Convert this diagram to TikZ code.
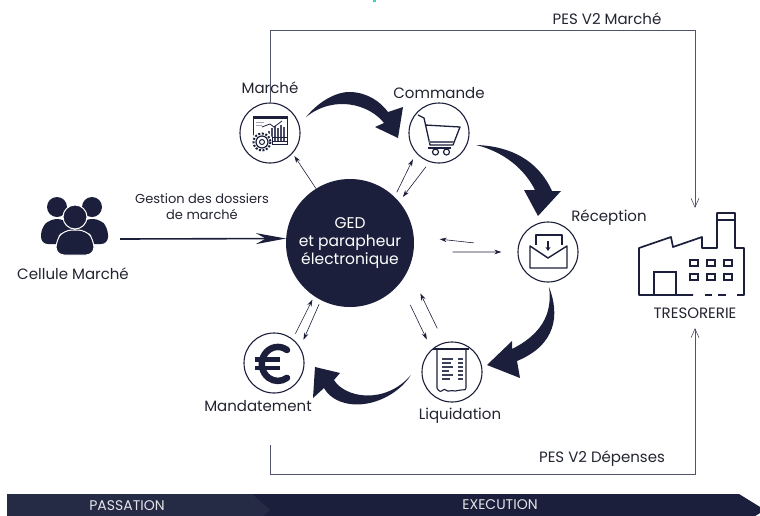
\documentclass[tikz,border=0pt]{standalone}
\usepackage{fontspec}
\setmainfont{Poppins}
\usetikzlibrary{arrows.meta}
\definecolor{navy}{HTML}{1B1F3B}
\definecolor{navyb}{HTML}{252B45}
\definecolor{inkc}{HTML}{222430}
\definecolor{linec}{HTML}{50546A}
\definecolor{tealmark}{HTML}{40D0C0}
\tikzset{
  lab/.style={font=\fontsize{15}{17}\selectfont,text=inkc,inner sep=0pt},
  smalllab/.style={font=\fontsize{13}{16}\selectfont,text=inkc,inner sep=0pt,align=center},
  peslab/.style={font=\fontsize{15}{17}\selectfont,text=inkc,inner sep=0pt},
  barlab/.style={font=\fontsize{14}{15}\selectfont,text=white!88!navy,inner sep=0pt},
  stage/.style={circle,draw=navy,line width=1.1pt,minimum size=60pt,inner sep=0pt},
  hub/.style={circle,fill=navy,minimum size=128pt,inner sep=0pt,text=white,align=center,font=\fontsize{15.5}{18}\selectfont},
  thinarrow/.style={draw=navy,line width=.6pt,-{Stealth[length=7pt,width=4.5pt]}},
  pesline/.style={draw=linec,line width=.8pt,-{Straight Barb[length=9pt,width=8pt,line width=.6pt]}},
  bigarrow/.style={fill=navy,draw=none},
  icon/.style={draw=navy,line width=1pt,fill=none,line join=round},
}
\begin{document}
\begin{tikzpicture}[x=1pt,y=-1pt]
\useasboundingbox (0,0) rectangle (760,515);
\fill[tealmark] (373,0) rectangle (376,2);
% process bar
\begin{scope}
\clip (0,0) rectangle (760,515);
\fill[navy] (7,494) -- (739,494) -- (765,510) -- (739,526) -- (7,526) -- cycle;
\fill[navyb] (7,494) -- (252,494) -- (270,510) -- (252,526) -- (7,526) -- cycle;
\end{scope}
\node[barlab] (passlab) at (127,505.5) {PASSATION};
\node[barlab] (execlab) at (500,504.5) {EXECUTION};
% nodes
\node[hub] (ged) at (350,243) {GED\\et parapheur\\électronique};
\node[stage] (marche) at (270,133) {};
\node[stage] (commande) at (439,133) {};
\node[stage] (reception) at (548,252) {};
\node[stage] (liquidation) at (452,372) {};
\node[stage] (mandat) at (274,363) {};
\node[lab] (lmarche) at (270,88) {Marché};
\node[lab] (lcommande) at (439,93) {Commande};
\node[lab] (lreception) at (609,218) {Réception};
\node[lab] (lliquidation) at (460,416) {Liquidation};
\node[lab] (lmandat) at (258,406) {Mandatement};
\node[lab] (lcellule) at (73,274) {Cellule Marché};
\node[smalllab] (lgestion) at (202,207) {Gestion des dossiers\\de marché};
\node[peslab] (ltres) at (695,313) {TRESORERIE};
\node[peslab] (lpes1) at (607,19) {PES V2 Marché};
\node[peslab] (lpes2) at (602,459) {PES V2 Dépenses};
% PES lines
\coordinate (pes1end) at (695,208);
\coordinate (pes2end) at (695,328);
\coordinate (pesstart) at (270,445);
\draw[pesline] (marche.north) -- (270,30) -- (695,30) -- (pes1end);
\draw[pesline] (pesstart) -- (270,474) -- (695,474) -- (pes2end);
% main arrow
\coordinate (cell) at (120,239);
\draw[draw=navy,line width=1.6pt,-{Stealth[length=30pt,width=11pt]}] (cell) -- (ged.176);
% thin arrows
\draw[thinarrow,shorten >=3pt] (ged.122.5) -- (marche.-42.6);
\draw[thinarrow,shorten <=5pt,shorten >=7pt] (ged.46.7) -- (commande.221.8);
\draw[thinarrow,shorten <=6pt,shorten >=6pt] (commande.252) -- (ged.40.4);
\draw[thinarrow,shorten <=44pt,shorten >=26pt] (reception.172) -- (ged.6);
\draw[thinarrow,shorten <=39pt,shorten >=16pt] (ged.-8.7) -- (reception.west);
\draw[thinarrow,shorten <=23.9pt,shorten >=10.9pt] (ged.-39.2) -- (liquidation.132.3);
\draw[thinarrow,shorten <=15.7pt,shorten >=27pt] (liquidation.105.7) -- (ged.-24.6);
\draw[thinarrow,shorten <=5.9pt,shorten >=3.7pt] (mandat.52.2) -- (ged.-124.6);
\draw[thinarrow,shorten <=4.4pt,shorten >=8.2pt] (ged.-117.1) -- (mandat.31.1);
% big curved arrows
\fill[bigarrow] (306,117) .. controls (320,100) and (338,91) .. (352,92) .. controls (367,93) and (380,101) .. (388,112)
  -- (403,107) -- (398,138) -- (375,127) -- (384,123) .. controls (370,105) and (335,94) .. (306,117) -- cycle;
\fill[bigarrow] (476,145) .. controls (510,146) and (538,160) .. (552,191) -- (561,191) -- (538,216) -- (524,190) -- (535,190)
  .. controls (525,170) and (505,152) .. (476,145) -- cycle;
\fill[bigarrow] (549,287) .. controls (560,315) and (556,345) .. (517,361) -- (520,378) -- (487,365) -- (512,341) -- (512,349)
  .. controls (540,335) and (553,315) .. (549,287) -- cycle;
\fill[bigarrow] (411,375) .. controls (398,395) and (372,407) .. (350,404) .. controls (336,402) and (328,395) .. (324,388)
  -- (313,398) -- (315,367) -- (340,373) -- (334,380) .. controls (345,398) and (385,405) .. (411,375) -- cycle;
% people
\begin{scope}
\fill[navy] (57,207) circle (10);
\fill[navy] (92,207) circle (10);
\fill[navy,rounded corners=7pt] (41,244) -- (41,228) -- (50,219) -- (64,219) -- (75,228) -- (75,244) -- cycle;
\fill[navy,rounded corners=7pt] (75,244) -- (75,228) -- (85,219) -- (100,219) -- (108,228) -- (108,244) -- cycle;
\fill[navy,draw=white,line width=1pt] (75,217) circle (12);
\fill[navy,draw=white,line width=1pt,rounded corners=8pt] (56,255) -- (56,240) -- (64,230) -- (86,230) -- (94,240) -- (94,255) -- cycle;
\end{scope}
% factory
\begin{scope}[line width=1.7pt]
\draw[navy,line join=round] (693,295) -- (639,295) -- (639,248) -- (671,237) -- (673,247) -- (702,237) -- (702,248) -- (717,248) -- (717,213) -- (735,213) -- (735,248) -- (744,248) -- (744,295) -- (737,295);
\draw[navy] (654,295) -- (654,272) -- (676,272) -- (676,295);
\draw[navy] (705,295) -- (712,295) (718,295) -- (726,295) (717,220) -- (735,220);
\foreach \wx in {690,707,724} \foreach \wy in {260,274}
  \draw[navy,line width=1.5pt] (\wx,\wy) rectangle +(8,6);
\end{scope}
% Marché icon
\begin{scope}
\draw[icon,line width=.7pt] (253,116) rectangle (287,141);
\fill[navy] (253,116) rectangle (287,119);
\foreach \bx/\bh in {268/10,271/13,274/15,277/13,280/16,283/14}
  \fill[navy!80] (\bx,141) rectangle +(2,-\bh);
\draw[navy,line width=.8pt] (262,127) -- (270,124) -- (274,127) -- (282,121);
\draw[navy!40,line width=.6pt] (256,122) -- (264,122) (256,125) -- (262,125);
\fill[white] (262,142) circle (11);
\draw[navy,line width=2pt,dash pattern=on 2pt off 1.6pt] (262,142) circle (8.5);
\draw[navy,line width=1.2pt] (262,142) circle (6);
\draw[navy,line width=1pt] (262,142) circle (2.5);
\draw[navy,line width=.7pt] (272,137) rectangle (287,144);
\end{scope}
% cart icon
\begin{scope}
\draw[icon,line width=1.3pt] (418,115) -- (424,118) -- (430,145) -- (453,145) -- (460,127) -- (425,125);
\fill[navy!70] (429,141) rectangle (454,143);
\draw[icon,line width=1.2pt] (428,148) -- (451,148);
\draw[icon,line width=1.2pt] (435.5,152) circle (3) (446.5,152) circle (3);
\end{scope}
% envelope icon
\begin{scope}
\draw[icon,line width=1.4pt] (536,245) -- (536,235) -- (562,235) -- (562,245);
\draw[icon,line width=1.4pt] (530,246) -- (530,268) -- (567,268) -- (567,246) -- (548,258) -- cycle;
\draw[navy,line width=1.4pt,-{Stealth[length=4pt,width=5pt]}] (548,241) -- (548,251);
\end{scope}
% receipt icon
\begin{scope}
\draw[icon,line width=1.2pt] (433,349) -- (469,349);
\draw[icon,line width=1.1pt] (437,349) -- (437,388) .. controls (439,392) and (441,392) .. (443,390) .. controls (445,388) and (447,392) .. (449,391) .. controls (451,389) and (453,392) .. (455,391) .. controls (457,389) and (459,392) .. (461,390) .. controls (463,388) and (465,392) .. (466,388) -- (466,349);
\foreach \ry/\rl in {358/11,362/9,366/11,370/7,374/11,378/8}{
  \fill[navy!85] (442,\ry) rectangle +(\rl,1.8);
  \fill[navy!85] (458,\ry) rectangle +(5,1.8);
}
\end{scope}
% euro icon
\begin{scope}
\draw[navy,line width=6.5pt,line cap=round] (287,350) arc (-55:-305:16 and 17);
\fill[navy] (255,357) rectangle (280,361.5);
\fill[navy] (255,365.5) rectangle (280,370);
\end{scope}
\end{tikzpicture}
\end{document}
